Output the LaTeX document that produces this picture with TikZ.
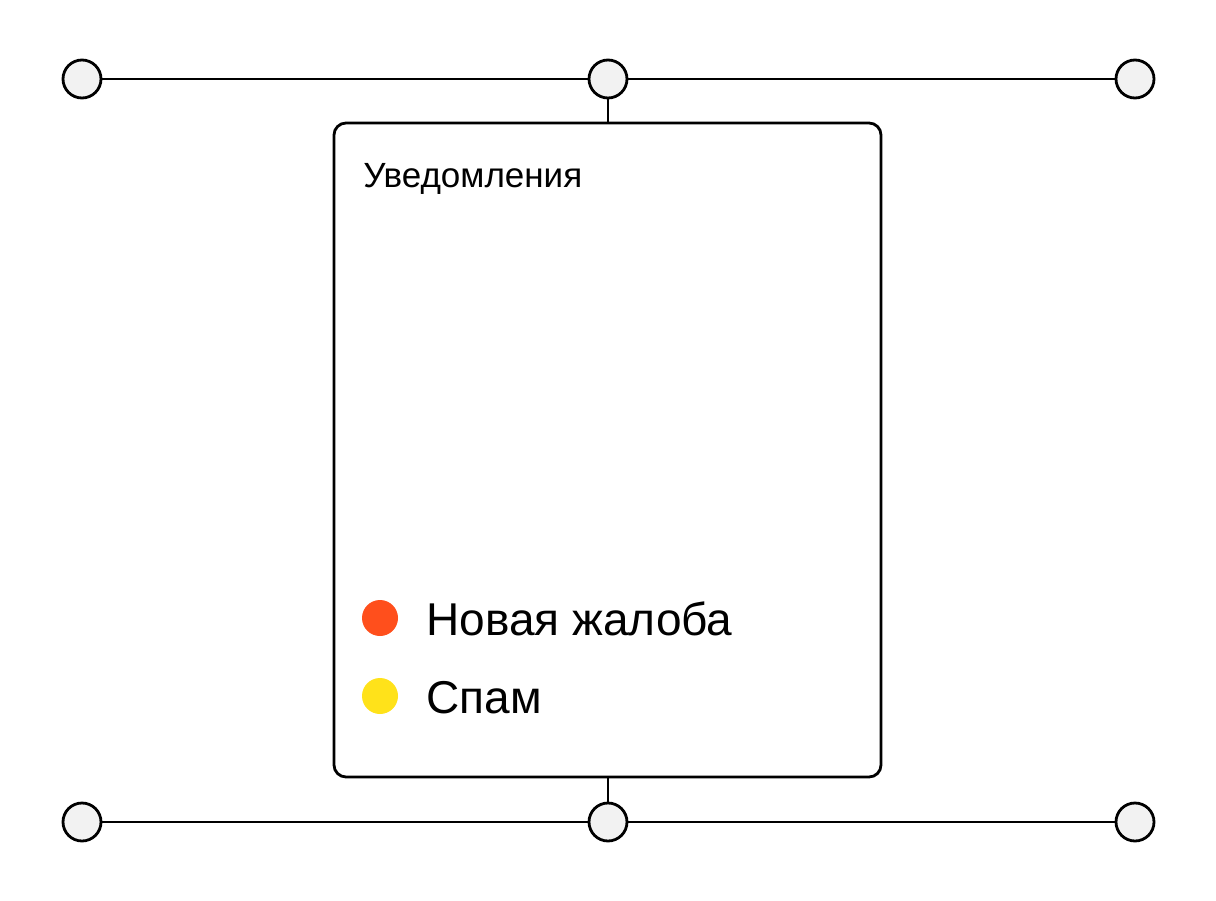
\documentclass[tikz,border=0pt]{standalone}
\usepackage{fontspec}
\setmainfont{Liberation Sans}
\definecolor{jointfill}{HTML}{F2F2F2}
\definecolor{alertred}{HTML}{FF4F1C}
\definecolor{spamyellow}{HTML}{FFE21A}
\begin{document}
\begin{tikzpicture}[x=1pt,y=-1pt,line width=2.8pt,
  joint/.style={circle,draw,fill=jointfill,minimum size=38pt,inner sep=0pt},
  legenddot/.style={circle,minimum size=36pt,inner sep=0pt},
  legendtext/.style={anchor=base west,inner sep=0pt,font=\fontsize{46}{52}\selectfont}]
   \useasboundingbox (0,0) rectangle (1216,900);
   \node[draw,fill=white,rounded corners=12pt,minimum width=547pt,minimum height=654pt] (panel) at (607.5,450) {};
   \node[joint] (tl) at (82,79) {};
   \node[joint] (tm) at (608,79) {};
   \node[joint] (tr) at (1135,79) {};
   \node[joint] (bl) at (82,822) {};
   \node[joint] (bm) at (608,822) {};
   \node[joint] (br) at (1135,822) {};
   \draw (tl) -- (tm);
   \draw (tm) -- (tr);
   \draw (bl) -- (bm);
   \draw (bm) -- (br);
   \draw (tm.south) -- (tm.south |- panel.north);
   \draw (bm.north) -- (bm.north |- panel.south);
   \node[anchor=base west,inner sep=0pt,font=\fontsize{35}{40}\selectfont] (title) at (362,187) {Уведомления};
   \node[legenddot,fill=alertred] (reddot) at (380,618) {};
   \node[legenddot,fill=spamyellow] (yellowdot) at (380,696) {};
   \node[legendtext] (newcase) at (425,635) {Новая жалоба};
   \node[legendtext] (spam) at (425,713) {Спам};
\end{tikzpicture}
\end{document}
